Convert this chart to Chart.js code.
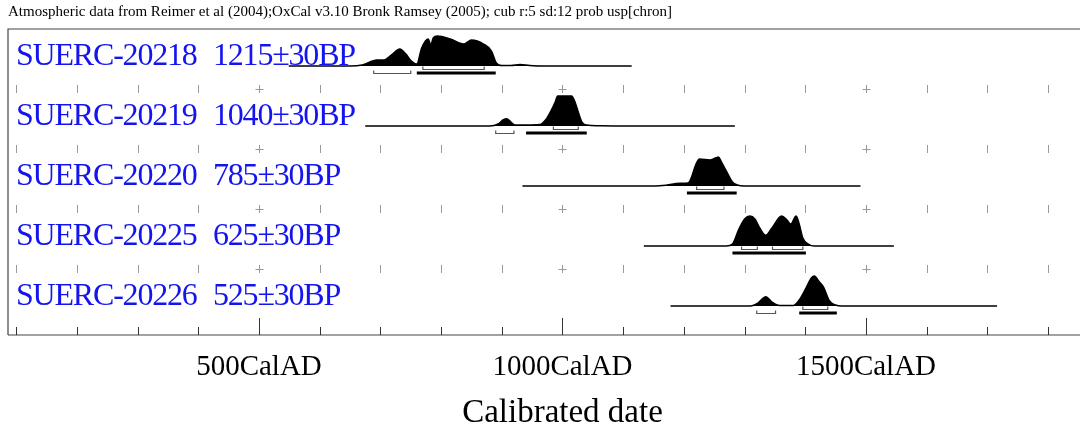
<!DOCTYPE html>
<html>
<head>
<meta charset="utf-8">
<script src="https://cdn.jsdelivr.net/npm/chart.js@4"></script>
<style>
  body { margin: 0; background: #fff; }
  canvas { display: block; }
</style>
</head>
<body>
<canvas id="oxcalCanvas" width="1080" height="430"></canvas>
<script>
// muestras y edades
var labCodes = ['SUERC-20218', 'SUERC-20219', 'SUERC-20220', 'SUERC-20225', 'SUERC-20226'];
var bpAges = [1215, 1040, 785, 625, 525];
var bpErrors = [30, 30, 30, 30, 30];

// distribuciones calibradas (año AD, altura relativa 0..30)
var years1 = [549, 650, 670, 694, 705, 718, 732, 742, 751, 760, 768, 779, 783, 787, 794, 815, 837, 850, 870, 883, 891, 900, 915, 930, 946, 970, 1114];
var prob1 = [0, 0, 1, 6, 6, 11, 17, 12, 5, 2, 18, 27, 21, 28, 30, 27, 22, 26, 22, 15, 3, 0.5, 0.5, 1.5, 0.5, 0, 0];

var years2 = [675, 880, 894, 902, 908, 915, 922, 940, 963, 972, 980, 988, 992, 1015, 1020, 1026, 1032, 1040, 1060, 1100, 1284];
var prob2 = [0, 0, 2, 6, 7.3, 4, 1, 1, 1.5, 6, 14, 24, 30, 30, 25, 14, 4, 1, 0.3, 0, 0];

var years3 = [934, 1140, 1165, 1194, 1207, 1212, 1220, 1226, 1243, 1252, 1257, 1262, 1270, 1280, 1288, 1300, 1491];
var prob3 = [0, 0, 0.5, 2.7, 3, 8, 22, 27, 26, 28, 29, 24, 15, 4, 1, 0, 0];

var years4 = [1134, 1270, 1280, 1290, 1300, 1309, 1317, 1325, 1335, 1345, 1361, 1370, 1376, 1385, 1390, 1396, 1405, 1415, 1546];
var prob4 = [0, 0, 2, 16, 27, 30, 27, 18, 10.7, 18, 30, 26, 22, 30, 22, 8, 2, 0, 0];

var years5 = [1178, 1310, 1322, 1335, 1345, 1358, 1380, 1390, 1402, 1410, 1415, 1422, 1430, 1440, 1450, 1460, 1716];
var prob5 = [0, 0, 3, 9.3, 4, 0.5, 0.5, 6, 19, 28, 30, 25, 19, 5, 1, 0, 0];

// rangos 68.2% y 95.4% [desde, hasta, %]
var ranges68 = [
    [[770, 871]],
    [[985, 1026]],
    [[1221, 1266]],
    [[1295, 1321], [1346, 1396]],
    [[1396, 1437]]
];
var ranges95 = [
    [[689, 750, 15], [760, 890, 80]],
    [[890, 920, 5], [940, 1040, 90]],
    [[1205, 1287, 95.4]],
    [[1280, 1401, 95.4]],
    [[1320, 1351, 24], [1390, 1452, 71]]
];

// eje
var tickYears = [100, 200, 300, 400, 500, 600, 700, 800, 900, 1000, 1100, 1200, 1300, 1400, 1500, 1600, 1700, 1800];
var tickLabelYears = [500, 1000, 1500];
var tickLabels = ['500CalAD', '1000CalAD', '1500CalAD'];
var axisTitle = 'Calibrated date';
var headerText = 'Atmospheric data from Reimer et al (2004);OxCal v3.10 Bronk Ramsey (2005); cub r:5 sd:12 prob usp[chron]';

var allYears = [years1, years2, years3, years4, years5];
var allProb = [prob1, prob2, prob3, prob4, prob5];

var ROW_TOP = 5.1;        // cada fila = 1 unidad (60px)
var BASE_OFFSET = 0.617;  // base de la distribución dentro de la fila
var PEAK = 0.5;           // altura máxima en unidades de fila

function baseLine(i) {
    return ROW_TOP - i - BASE_OFFSET;
}

var datasets = allYears.map(function (ys, i) {
    var b = baseLine(i);
    return {
        label: labCodes[i],
        data: ys.map(function (x, k) { return { x: x, y: b + allProb[i][k] / 30 * PEAK }; }),
        borderColor: '#000',
        backgroundColor: '#000',
        borderWidth: 1.5,
        pointRadius: 0,
        cubicInterpolationMode: 'monotone',
        fill: { value: b }
    };
});

var serif = '"Liberation Serif", "DejaVu Serif", serif';

var oxcalPlugin = {
    id: 'oxcalDecor',
    beforeDatasetsDraw: function (chart) {
        const ctx = chart.ctx;
        const xs = chart.scales.x, yS = chart.scales.y;
        const a = chart.chartArea;
        ctx.save();
        // marco
        ctx.strokeStyle = '#444';
        ctx.lineWidth = 1.2;
        ctx.beginPath();
        ctx.moveTo(a.left, a.bottom);
        ctx.lineTo(a.left, a.top);
        ctx.lineTo(a.right, a.top);
        ctx.moveTo(a.left, a.bottom);
        ctx.lineTo(a.right, a.bottom);
        ctx.stroke();

        // marcas entre filas
        ctx.strokeStyle = '#999';
        ctx.lineWidth = 1;
        for (let r = 1; r < labCodes.length; r++) {
            const py = Math.round(yS.getPixelForValue(ROW_TOP - r));
            tickYears.forEach(function (t) {
                const px = Math.round(xs.getPixelForValue(t)) + 0.5;
                ctx.beginPath();
                ctx.moveTo(px, py - 4);
                ctx.lineTo(px, py + 4);
                if (t % 500 === 0) {
                    ctx.moveTo(px - 4, py + 0.5);
                    ctx.lineTo(px + 4, py + 0.5);
                }
                ctx.stroke();
            });
        }

        // ticks del eje inferior
        ctx.strokeStyle = '#333';
        tickYears.forEach(function (t) {
            const px = Math.round(xs.getPixelForValue(t)) + 0.5;
            const len = (t % 500 === 0) ? 17 : 8;
            ctx.beginPath();
            ctx.moveTo(px, a.bottom);
            ctx.lineTo(px, a.bottom - len);
            ctx.stroke();
        });

        // textos del eje
        ctx.fillStyle = '#000';
        ctx.textAlign = 'center';
        ctx.textBaseline = 'middle';
        ctx.font = '29px ' + serif;
        tickLabelYears.forEach(function (t, k) {
            ctx.fillText(tickLabels[k], xs.getPixelForValue(t), 367);
        });
        ctx.font = '33px ' + serif;
        ctx.fillText(axisTitle, xs.getPixelForValue(1000), 413);

        // cabecera
        ctx.textAlign = 'left';
        ctx.font = '15px ' + serif;
        ctx.fillText(headerText, 8, 12);
        ctx.restore();
    },
    afterDatasetsDraw: function (chart) {
        const ctx = chart.ctx;
        const xs = chart.scales.x, yS = chart.scales.y;
        ctx.save();

        function bracket(x1, x2, y, color, w) {
            ctx.strokeStyle = color;
            ctx.lineWidth = w;
            ctx.beginPath();
            ctx.moveTo(x1, y - 3);
            ctx.lineTo(x1, y);
            ctx.lineTo(x2, y);
            ctx.lineTo(x2, y - 3);
            ctx.stroke();
        }

        labCodes.forEach(function (code, i) {
            const by = yS.getPixelForValue(baseLine(i));
            ranges68[i].forEach(function (r) {
                bracket(xs.getPixelForValue(r[0]), xs.getPixelForValue(r[1]), by + 3.5, '#555', 1.2);
            });
            ranges95[i].forEach(function (r) {
                const x1 = xs.getPixelForValue(r[0]), x2 = xs.getPixelForValue(r[1]);
                if (r[2] > 50) {
                    ctx.strokeStyle = '#000';
                    ctx.lineWidth = 3;
                    ctx.beginPath();
                    ctx.moveTo(x1, by + 7);
                    ctx.lineTo(x2, by + 7);
                    ctx.stroke();
                } else {
                    bracket(x1, x2, by + 7.5, '#555', 1.2);
                }
            });

            // etiqueta de la muestra
            ctx.fillStyle = '#1414f0';
            ctx.font = '32px ' + serif;
            ctx.letterSpacing = '-1.2px';
            ctx.textAlign = 'left';
            ctx.textBaseline = 'alphabetic';
            ctx.fillText(code, 16, by - 1);
            ctx.fillText(bpAges[i] + '\u00b1' + bpErrors[i] + 'BP', 213, by - 1);
        });
        ctx.restore();
    }
};

var ctx = document.getElementById('oxcalCanvas').getContext('2d');
var oxcalChart = new Chart(ctx, {
    type: 'line',
    data: { datasets: datasets },
    options: {
        responsive: false,
        animation: false,
        devicePixelRatio: 1,
        layout: { padding: { left: 8, right: 0, top: 29, bottom: 95 } },
        scales: {
            x: { type: 'linear', min: 86.5, max: 1852.6, display: false },
            y: { min: 0, max: ROW_TOP, display: false }
        },
        plugins: {
            legend: { display: false },
            tooltip: { enabled: false }
        }
    },
    plugins: [oxcalPlugin]
});
</script>
</body>
</html>
